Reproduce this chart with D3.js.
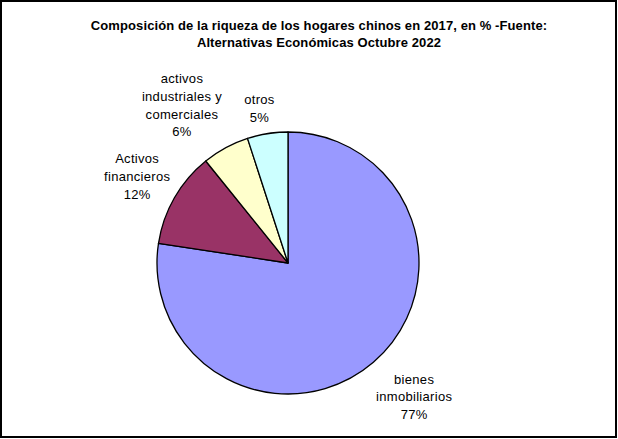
<!DOCTYPE html>
<html>
<head>
<meta charset="utf-8">
<script src="https://cdn.jsdelivr.net/npm/d3@7"></script>
<style>
  body { margin: 0; background: #fff; }
  svg { display: block; font-family: "Liberation Sans", Arial, sans-serif; }
</style>
</head>
<body>
<svg id="chart"></svg>
<script>
// data
const titleLines = ['Composición de la riqueza de los hogares chinos en 2017, en % -Fuente:', 'Alternativas Económicas Octubre 2022'];
const categories = ['bienes inmobiliarios', 'Activos financieros', 'activos industriales y comerciales', 'otros'];
const labelLines = [['bienes', 'inmobiliarios'], ['Activos', 'financieros'], ['activos', 'industriales y', 'comerciales'], ['otros']];
const values = [77.4, 11.8, 5.8, 5.0];
const colors = ['#9999FF', '#993366', '#FFFFCC', '#CCFFFF'];

const width = 618, height = 439;
const cx = 288, cy = 263, radius = 131;
// label placement (Excel "best fit"): distance from centre and angle nudge in degrees
const labelDist = [184, 174, 190, 157];
const labelNudge = [-2.6, 0, -5.5, -1.5];
const pct = d3.format('.0f');

const svg = d3.select('#chart')
  .attr('width', width)
  .attr('height', height);

// frame
svg.append('rect')
  .attr('x', 1).attr('y', 1)
  .attr('width', width - 3).attr('height', height - 3)
  .attr('fill', '#fff')
  .attr('stroke', '#000')
  .attr('stroke-width', 2);

// title
svg.append('text')
  .attr('text-anchor', 'middle')
  .style('font-weight', 'bold')
  .style('font-size', '13px')
  .style('letter-spacing', '0.1px')
  .selectAll('tspan')
  .data(titleLines)
  .enter()
  .append('tspan')
    .attr('x', 319)
    .attr('y', (d, i) => 30 + i * 17)
    .text(d => d);

const pie = d3.pie().sort(null).value(d => d);
const arcs = pie(values);
const arc = d3.arc().innerRadius(0).outerRadius(radius);

const g = svg.append('g').attr('transform', `translate(${cx},${cy})`);

g.selectAll('path')
  .data(arcs)
  .enter()
  .append('path')
    .attr('d', arc)
    .attr('fill', (d, i) => colors[i])
    .attr('stroke', '#000')
    .attr('stroke-width', 1.3)
    .attr('stroke-linejoin', 'round');

// labels
const lineH = 17.7;
arcs.forEach((a, i) => {
  const mid = (a.startAngle + a.endAngle) / 2 + labelNudge[i] * Math.PI / 180;
  const x = Math.sin(mid) * labelDist[i];
  const y = -Math.cos(mid) * labelDist[i];
  const lines = labelLines[i].concat([pct(values[i]) + '%']);
  const first = y + 4.5 - (lines.length - 1) * lineH / 2;
  const t = g.append('text')
    .attr('text-anchor', 'middle')
    .style('font-size', '13px')
    .style('letter-spacing', '0.3px');
  lines.forEach((l, j) => {
    t.append('tspan')
      .attr('x', x)
      .attr('y', first + j * lineH)
      .text(l);
  });
});
</script>
</body>
</html>
